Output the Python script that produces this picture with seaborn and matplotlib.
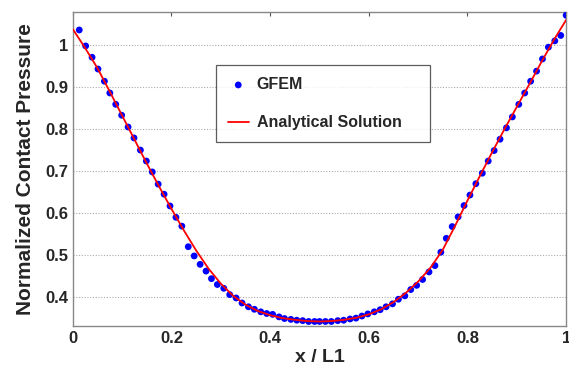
import matplotlib
matplotlib.use("Agg")
import matplotlib.pyplot as plt
import pandas as pd
import seaborn as sns

# GFEM results
GFEM_X = [0.013, 0.026, 0.039, 0.051, 0.064, 0.075, 0.087, 0.099, 0.112, 0.124,
          0.137, 0.149, 0.161, 0.173, 0.185, 0.197, 0.209, 0.221, 0.234, 0.246,
          0.258, 0.270, 0.281, 0.293, 0.306, 0.318, 0.331, 0.343, 0.356, 0.368,
          0.381, 0.393, 0.405, 0.418, 0.429, 0.442, 0.454, 0.466, 0.478, 0.490,
          0.500, 0.512, 0.524, 0.537, 0.549, 0.562, 0.574, 0.586, 0.598, 0.611,
          0.623, 0.635, 0.648, 0.660, 0.673, 0.685, 0.697, 0.709, 0.722, 0.734,
          0.746, 0.757, 0.769, 0.781, 0.793, 0.805, 0.817, 0.830, 0.842, 0.854,
          0.866, 0.879, 0.891, 0.904, 0.916, 0.928, 0.940, 0.952, 0.964, 0.977,
          0.989, 1.000]
GFEM_Y = [1.036, 0.998, 0.971, 0.943, 0.914, 0.886, 0.859, 0.833, 0.805, 0.779,
          0.750, 0.724, 0.698, 0.669, 0.645, 0.617, 0.590, 0.569, 0.520, 0.498,
          0.478, 0.462, 0.444, 0.430, 0.421, 0.406, 0.398, 0.386, 0.377, 0.371,
          0.365, 0.361, 0.359, 0.353, 0.349, 0.347, 0.345, 0.344, 0.342, 0.342,
          0.342, 0.342, 0.342, 0.344, 0.345, 0.348, 0.350, 0.355, 0.360, 0.365,
          0.370, 0.377, 0.384, 0.395, 0.403, 0.418, 0.428, 0.442, 0.460, 0.475,
          0.507, 0.540, 0.568, 0.591, 0.618, 0.643, 0.670, 0.695, 0.724, 0.749,
          0.776, 0.803, 0.829, 0.859, 0.886, 0.914, 0.938, 0.967, 0.995, 1.010,
          1.023, 1.071]

# analytical solution, sampled along the red curve
ANALYTIC_X = [0.0, 0.025, 0.05, 0.075, 0.1, 0.125, 0.15, 0.175, 0.2, 0.225,
              0.25, 0.275, 0.3, 0.325, 0.35, 0.375, 0.4, 0.425, 0.45, 0.475,
              0.5, 0.525, 0.55, 0.575, 0.6, 0.625, 0.65, 0.675, 0.7, 0.725,
              0.75, 0.775, 0.8, 0.825, 0.85, 0.875, 0.9, 0.925, 0.95, 0.975, 1.0]
ANALYTIC_Y = [1.038, 0.993, 0.945, 0.889, 0.832, 0.775, 0.718, 0.663, 0.610, 0.559,
              0.511, 0.468, 0.432, 0.403, 0.382, 0.367, 0.357, 0.350, 0.346, 0.343,
              0.342, 0.343, 0.346, 0.351, 0.359, 0.371, 0.388, 0.410, 0.437, 0.470,
              0.513, 0.570, 0.630, 0.688, 0.745, 0.800, 0.853, 0.906, 0.960, 1.012,
              1.060]

X_TICKS = [0, 0.2, 0.4, 0.6, 0.8, 1]
Y_TICKS = [0.4, 0.5, 0.6, 0.7, 0.8, 0.9, 1.0]
Y_TICK_LABELS = ["0.4", "0.5", "0.6", "0.7", "0.8", "0.9", "1"]

sns.set_style("white")
plt.rcParams["font.family"] = ["Liberation Sans", "DejaVu Sans"]
plt.rcParams["font.weight"] = "bold"

gfem = pd.DataFrame({"x": GFEM_X, "p": GFEM_Y})
analytic = pd.DataFrame({"x": ANALYTIC_X, "p": ANALYTIC_Y})

fig = plt.figure(figsize=(5.69, 3.66), dpi=100)
ax = fig.add_axes([0.128, 0.109, 0.867, 0.858])

sns.scatterplot(data=gfem, x="x", y="p", ax=ax, color="#0000ff", s=24,
                edgecolor="none", label="GFEM", zorder=3)
sns.lineplot(data=analytic, x="x", y="p", ax=ax, color="#ff0000", linewidth=1.3,
             label="Analytical Solution", zorder=4)

ax.set_xlim(0, 1)
ax.set_ylim(0.331, 1.0786)
ax.set_xticks(X_TICKS)
ax.set_xticklabels([f"{t:g}" for t in X_TICKS])
ax.set_yticks(Y_TICKS)
ax.set_yticklabels(Y_TICK_LABELS)
ax.tick_params(axis="both", labelsize=12, direction="in", length=3,
               color="#555555", top=True, right=False, left=False)
ax.yaxis.grid(True, linestyle=(0, (1, 1.5)), color="#aaaaaa", linewidth=0.8)
for side in ax.spines.values():
    side.set_color("#888888")
    side.set_linewidth(1.0)

ax.set_xlabel("x / L1", fontsize=14, fontweight="bold", labelpad=2)
ax.set_ylabel("Normalized Contact Pressure", fontsize=15, fontweight="bold", labelpad=7)

leg = ax.legend(loc="upper left", bbox_to_anchor=(0.29, 0.586, 0.434, 0.245),
                mode="expand", fontsize=11.5, frameon=True, fancybox=False,
                edgecolor="#333333", borderpad=0.75, labelspacing=1.45,
                handlelength=1.3, handletextpad=0.5, borderaxespad=0)
leg.get_frame().set_linewidth(0.9)
for txt in leg.get_texts():
    txt.set_fontweight("bold")

fig.savefig("out.png", dpi=100)
